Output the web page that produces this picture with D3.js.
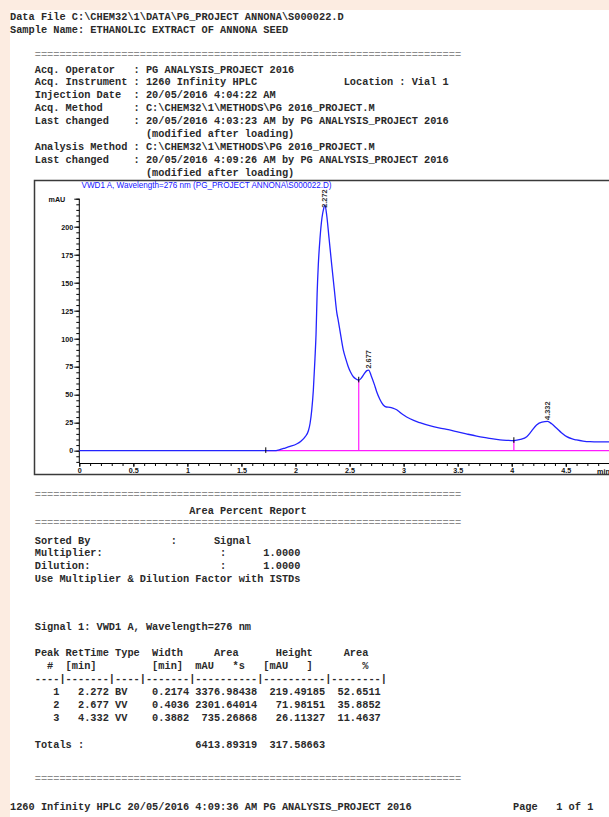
<!DOCTYPE html>
<html>
<head>
<meta charset="utf-8">
<script src="https://cdn.jsdelivr.net/npm/d3@7"></script>
<style>
body{margin:0;padding:0;background:#fcece1;overflow:hidden;}
svg{display:block;}
.report{font-family:"Liberation Mono","DejaVu Sans Mono",monospace;font-size:10.3px;font-weight:bold;fill:#2a2a2a;white-space:pre;}
.sep{font-family:"Liberation Mono","DejaVu Sans Mono",monospace;font-size:10.3px;fill:#8c8c8c;white-space:pre;}
.axis text{font-family:"Liberation Sans",Arial,sans-serif;font-size:7.2px;font-weight:bold;fill:#111;}
.axis path,.axis line{stroke:#000;stroke-width:1;}
.signal{fill:none;stroke:#2323ff;stroke-width:1.3;stroke-linejoin:round;}
.base{stroke:#ff1aff;stroke-width:1.2;fill:none;}
.evt{stroke:#000;stroke-width:1;}
.plabel{font-family:"Liberation Sans",Arial,sans-serif;font-size:7.4px;font-weight:bold;fill:#333;}
.title{font-family:"Liberation Sans",Arial,sans-serif;font-size:8.4px;fill:#1414ff;}
</style>
</head>
<body>
<script>
var WIDTH = 609, HEIGHT = 817;

// ---- report text ----
var fileLines = [
  "Data File C:\\CHEM32\\1\\DATA\\PG_PROJECT ANNONA\\S000022.D",
  "Sample Name: ETHANOLIC EXTRACT OF ANNONA SEED"
];
var methodLines = [
  "    Acq. Operator   : PG ANALYSIS_PROJECT 2016",
  "    Acq. Instrument : 1260 Infinity HPLC              Location : Vial 1",
  "    Injection Date  : 20/05/2016 4:04:22 AM",
  "    Acq. Method     : C:\\CHEM32\\1\\METHODS\\PG 2016_PROJECT.M",
  "    Last changed    : 20/05/2016 4:03:23 AM by PG ANALYSIS_PROJECT 2016",
  "                      (modified after loading)",
  "    Analysis Method : C:\\CHEM32\\1\\METHODS\\PG 2016_PROJECT.M",
  "    Last changed    : 20/05/2016 4:09:26 AM by PG ANALYSIS_PROJECT 2016",
  "                      (modified after loading)"
];
var reportTitle = "                             Area Percent Report";
var optionLines = [
  "    Sorted By             :      Signal",
  "    Multiplier:                   :      1.0000",
  "    Dilution:                     :      1.0000",
  "    Use Multiplier & Dilution Factor with ISTDs"
];
var signalName = "    Signal 1: VWD1 A, Wavelength=276 nm";
var tableLines = [
  "    Peak RetTime Type  Width     Area      Height     Area",
  "      #  [min]         [min]  mAU   *s   [mAU   ]        %",
  "    ----|-------|----|-------|----------|----------|--------|",
  "       1   2.272 BV    0.2174 3376.98438  219.49185  52.6511",
  "       2   2.677 VV    0.4036 2301.64014   71.98151  35.8852",
  "       3   4.332 VV    0.3882  735.26868   26.11327  11.4637"
];
var totalsLine = "    Totals :                  6413.89319  317.58663";
var footerLine = "1260 Infinity HPLC 20/05/2016 4:09:36 AM PG ANALYSIS_PROJECT 2016";
var pageLine = "Page   1 of 1";
var chartTitle = "VWD1 A, Wavelength=276 nm (PG_PROJECT ANNONA\\S000022.D)";

// ---- chromatogram ----
var signalTime = [0, 1.72, 1.80, 1.85, 1.89, 1.95, 2.01, 2.05, 2.09, 2.12, 2.135, 2.15, 2.165, 2.18, 2.19,
  2.20, 2.211, 2.227, 2.245, 2.26, 2.272, 2.289, 2.31, 2.335, 2.36, 2.381, 2.396, 2.42, 2.442, 2.465,
  2.488, 2.51, 2.535, 2.56, 2.585, 2.61, 2.635, 2.66, 2.677, 2.70, 2.73, 2.751, 2.78, 2.812, 2.84,
  2.874, 2.90, 2.936, 2.97, 3.00, 3.06, 3.15, 3.275, 3.40, 3.49, 3.58, 3.676, 3.78, 3.892, 3.96,
  4.02, 4.08, 4.139, 4.18, 4.23, 4.28, 4.332, 4.37, 4.416, 4.46, 4.509, 4.56, 4.60, 4.66, 4.724,
  4.80, 4.90, 5.0];
var signalMAU = [0, 0, 0, 0.8, 2, 3.8, 6, 8.5, 12.5, 18, 24.5, 36, 54, 82, 104,
  140, 166, 190, 208, 216, 219.5, 210, 190, 166, 143, 124, 116, 102, 90, 82,
  75, 70, 66, 64, 63, 65, 68.5, 71.5, 72, 67, 59, 52.7, 46, 40.8, 39,
  38.7, 38, 36.5, 34, 31.9, 28.5, 25, 21.4, 19, 17, 15, 13, 11.3, 9.6, 9.2,
  9, 10, 12.5, 17, 23, 25.5, 26.1, 24, 20, 16, 12.5, 10.5, 9.6, 8.6, 8,
  7.8, 7.8, 7.8];

var peakTimes = [2.272, 2.677, 4.332];
var peakHeights = [219.49185, 71.98151, 26.11327];
var peakLabels = ["2.272", "2.677", "4.332"];

var baselineStart = 1.73, baselineEnd = 5.0;
var dropTimes = [2.585, 4.02];
var dropValues = [63, 9];
var eventTimes = [1.725];

var yMajorTicks = [0, 25, 50, 75, 100, 125, 150, 175, 200, 225];
var xMajorTicks = [0, 0.5, 1, 1.5, 2, 2.5, 3, 3.5, 4, 4.5];

var _svg, _xScale, _yScale;

var drawLines = function(g, lines, x, y0, step, cls){
    g.selectAll(null).data(lines).enter().append('text')
        .attr('class', cls)
        .attr('x', x)
        .attr('y', function(d, i){ return y0 + i * step; })
        .text(function(d){ return d; });
};

var separator = function(g, y){
    g.append('text').attr('class', 'sep').attr('x', 10).attr('y', y)
        .text('    ' + d3.range(69).map(function(){ return '='; }).join(''));
};

var createReport = function(){
    var g = _svg.append('g');
    drawLines(g, fileLines, 10, 19.5, 13.5, 'report');
    separator(g, 58);
    drawLines(g, methodLines, 10, 72.5, 12.9, 'report');
    separator(g, 498);
    drawLines(g, [reportTitle], 10, 514.2, 0, 'report');
    separator(g, 525.5);
    drawLines(g, optionLines, 10, 543.5, 12.7, 'report');
    drawLines(g, [signalName], 10, 630.2, 0, 'report');
    drawLines(g, tableLines, 10, 655.8, 13.1, 'report');
    drawLines(g, [totalsLine], 10, 747.5, 0, 'report');
    separator(g, 782);
    drawLines(g, [footerLine], 10, 809.5, 0, 'report');
    drawLines(g, [pageLine], 513, 809.5, 0, 'report');
};

var createChart = function(){
    _xScale = d3.scaleLinear().domain([0, 5]).range([79.3, 79.3 + 5 * 108.1]);
    _yScale = d3.scaleLinear().domain([-11, 225]).range([463, 198.7]);

    var g = _svg.append('g');

    // frame
    g.append('rect')
        .attr('x', 34.5).attr('y', 180.5)
        .attr('width', 620).attr('height', 294)
        .attr('fill', '#fff').attr('stroke', '#3a3a3a').attr('stroke-width', 1.5);

    g.append('text').attr('class', 'title')
        .attr('x', 81.5).attr('y', 188)
        .attr('textLength', 250).attr('lengthAdjust', 'spacingAndGlyphs')
        .text(chartTitle);

    // y axis
    var yMinor = g.append('g').attr('class', 'axis')
        .attr('transform', 'translate(' + _xScale(0) + ',0)')
        .call(d3.axisLeft(_yScale).tickValues(d3.range(-10, 226, 5)).tickSize(3).tickSizeOuter(0).tickFormat(''));
    var yMajor = g.append('g').attr('class', 'axis')
        .attr('transform', 'translate(' + _xScale(0) + ',0)')
        .call(d3.axisLeft(_yScale).tickValues(yMajorTicks).tickSize(5).tickPadding(1).tickSizeOuter(0)
            .tickFormat(function(d){ return d === 225 ? 'mAU' : d; }));
    yMajor.select('.domain').remove();
    yMinor.select('.domain').attr('d', 'M0,' + _yScale(-11) + 'V' + _yScale(225));
    yMajor.selectAll('text').filter(function(d){ return d === 225; }).attr('x', -14);

    // x axis
    var xMinor = g.append('g').attr('class', 'axis')
        .attr('transform', 'translate(0,' + _yScale(-11) + ')')
        .call(d3.axisBottom(_xScale).tickValues(d3.range(0, 50).map(function(i){ return i / 10; }))
            .tickSize(3).tickSizeOuter(0).tickFormat(''));
    var xMajor = g.append('g').attr('class', 'axis')
        .attr('transform', 'translate(0,' + _yScale(-11) + ')')
        .call(d3.axisBottom(_xScale).tickValues(xMajorTicks).tickSize(4).tickPadding(1).tickSizeOuter(0)
            .tickFormat(function(d){ return String(+d.toFixed(1)); }));
    xMajor.select('.domain').remove();
    g.append('text')
        .attr('x', _xScale(4.79)).attr('y', _yScale(-11) + 11)
        .style('font-family', '"Liberation Sans",Arial,sans-serif').style('font-size', '7.2px')
        .style('font-weight', 'bold').style('fill', '#111')
        .text('min');

    var pts = signalTime.map(function(t, i){ return {t: t, v: signalMAU[i]}; });

    // baseline + drop lines
    g.append('line').attr('class', 'base')
        .attr('x1', _xScale(baselineStart)).attr('x2', _xScale(baselineEnd))
        .attr('y1', _yScale(0)).attr('y2', _yScale(0));
    g.selectAll('line.drop').data(dropTimes).enter().append('line')
        .attr('class', 'base drop')
        .attr('x1', function(d){ return _xScale(d); })
        .attr('x2', function(d){ return _xScale(d); })
        .attr('y1', _yScale(0))
        .attr('y2', function(d, i){ return _yScale(dropValues[i]); });

    // signal
    var line = d3.line()
        .x(function(d){ return _xScale(d.t); })
        .y(function(d){ return _yScale(d.v); })
        .curve(d3.curveMonotoneX);
    g.append('path').attr('class', 'signal').attr('d', line(pts));

    // integration event marks
    g.selectAll('line.evt0').data(eventTimes).enter().append('line').attr('class', 'evt')
        .attr('x1', function(d){ return _xScale(d); }).attr('x2', function(d){ return _xScale(d); })
        .attr('y1', _yScale(-2)).attr('y2', _yScale(3));
    g.selectAll('line.evt1').data(dropTimes).enter().append('line').attr('class', 'evt')
        .attr('x1', function(d){ return _xScale(d); }).attr('x2', function(d){ return _xScale(d); })
        .attr('y1', function(d, i){ return _yScale(dropValues[i] - 2); })
        .attr('y2', function(d, i){ return _yScale(dropValues[i] + 3); });

    // peak labels
    g.selectAll('text.plabel').data(peakLabels).enter().append('text')
        .attr('class', 'plabel')
        .attr('transform', function(d, i){
            var off = i === 0 ? 3 : -1.5;
            return 'translate(' + (_xScale(peakTimes[i]) + 2.5) + ',' + (_yScale(peakHeights[i]) + off) + ') rotate(-90)';
        })
        .text(function(d){ return d; });
};

_svg = d3.select('body').append('svg')
    .attr('width', WIDTH)
    .attr('height', HEIGHT);
_svg.append('rect').attr('x', 10).attr('y', 10).attr('width', WIDTH).attr('height', HEIGHT).attr('fill', '#fff');

createReport();
createChart();
</script>
</body>
</html>
